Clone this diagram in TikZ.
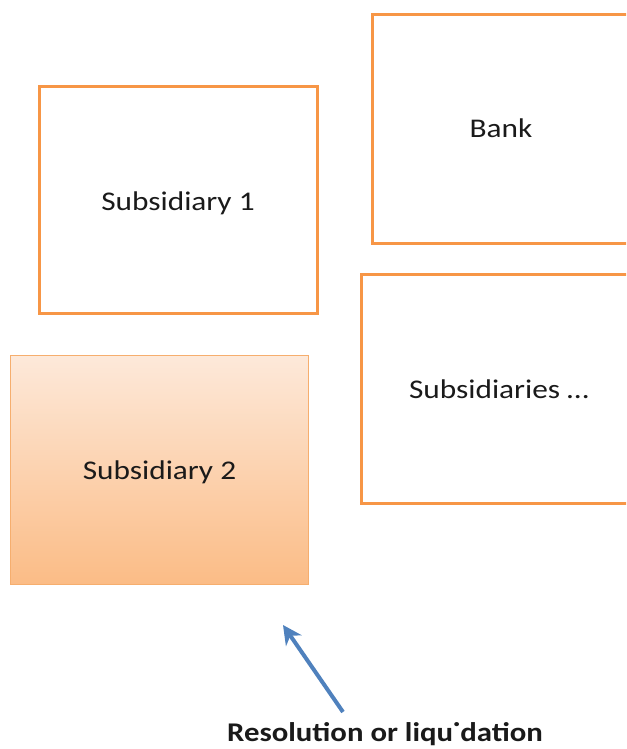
\documentclass[tikz,border=0pt]{standalone}
\usepackage{fontspec}
\setmainfont{Carlito}
\usetikzlibrary{arrows.meta}
\definecolor{boxorange}{HTML}{F79646}
\definecolor{lightedge}{HTML}{F6AE6E}
\definecolor{gradtop}{HTML}{FDE9DA}
\definecolor{gradbot}{HTML}{FBBC86}
\definecolor{arrowblue}{HTML}{4F81BD}
\definecolor{txt}{HTML}{1A1A1A}
\tikzset{
  entity/.style={draw=boxorange, line width=3pt, fill=white, rectangle, inner sep=0pt,
    text=txt, font=\fontsize{27}{30}\selectfont},
  failed/.style={draw=lightedge, line width=1pt, top color=gradtop, bottom color=gradbot,
    rectangle, inner sep=0pt, text=txt, font=\fontsize{27}{30}\selectfont},
  caption/.style={inner sep=0pt, text=txt, font=\bfseries\fontsize{27}{30}\selectfont},
  resarrow/.style={draw=arrowblue, line width=4pt, -{Stealth[length=19pt,width=19pt,inset=6pt]}}
}
\newcommand{\wide}[2][10pt]{\raisebox{-#1}[0pt][0pt]{\scalebox{1.16}[1]{#2}}}
\begin{document}
\begin{tikzpicture}[x=1pt,y=-1pt]
\useasboundingbox (0,0) rectangle (626,749);
\clip (0,0) rectangle (626,749);
\node[entity, minimum width=278pt, minimum height=227pt] (sub1) at (178,200) {\wide{Subsidiary 1}};
\node[entity, minimum width=258pt, minimum height=228pt] (bank) at (501,129) {\wide[9pt]{Bank}};
\node[entity, minimum width=276pt, minimum height=229pt] (subs) at (499,388.5) {\wide{Subsidiaries \dots}};
\node[failed, minimum width=298pt, minimum height=229pt] (sub2) at (159.5,469.5) {\wide{Subsidiary 2}};
\node[caption, anchor=base] (label) at (385,741) {\scalebox{1.14}[1]{Resolution or liqu˙dation}};
\coordinate (tail) at (343,712);
\coordinate (head) at (283,625);
\draw[resarrow] (tail) -- (head);
\end{tikzpicture}
\end{document}
